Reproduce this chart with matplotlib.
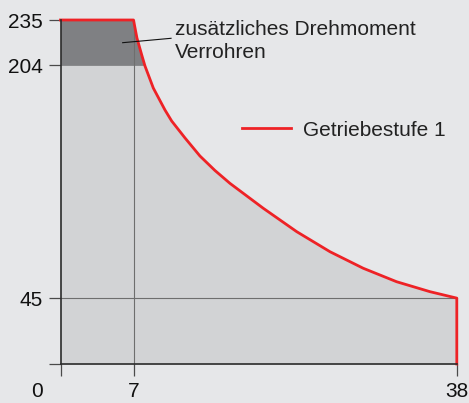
import matplotlib
matplotlib.use("Agg")
import matplotlib.pyplot as plt
import numpy as np

plt.rcParams['font.family'] = ['Liberation Sans', 'DejaVu Sans']

# Torque curve (speed vs. torque), read along the red boundary
speed = [0, 7, 7.33, 7.79, 8.1, 8.9, 10.02, 10.66, 11.94, 13.37, 14.81, 16.25,
         19.44, 22.65, 25.84, 29.03, 32.23, 35.43, 38]
torque = [235, 235, 222.7, 211.1, 203.6, 188.5, 173.5, 166, 154.4, 142.1, 132.2,
          123.4, 106.4, 90.4, 76.7, 65.4, 56.2, 49.4, 45]

torque_base = 204          # limit without the extra pipe-running torque
x_ticks = [0, 7, 38]
x_tick_labels = ["", "7", "38"]
y_ticks = [0, 45, 204, 235]
y_tick_labels = ["", "45", "204", "235"]
series_name = "Getriebestufe 1"
note_lines = ["zusätzliches Drehmoment", "Verrohren"]

bg = "#e6e7e9"
light = "#d2d3d5"
dark = "#7f8083"
red = "#ee2226"
grid_c = "#6e6e6e"
axis_c = "#2b2b2b"

W, H = 469, 403
fig = plt.figure(figsize=(W / 100, H / 100), dpi=100, facecolor=bg)
ax = fig.add_axes([60.5 / W, (H - 364) / H, 396.3 / W, 344 / H])
ax.set_facecolor(bg)
ax.set_xlim(0, 38)
ax.set_ylim(0, 235)

xs = np.array(speed, dtype=float)
ys = np.array(torque, dtype=float)

# operating area and the extra torque band
ax.fill_between(xs, 0, ys, color=light, lw=0, zorder=1)
ax.fill_between(xs, torque_base, ys, where=ys >= torque_base, interpolate=True,
                color=dark, lw=0, zorder=2)

# reference lines
ax.plot([0, 38], [45, 45], color=grid_c, lw=0.8, zorder=3, clip_on=False)
ax.plot([7, 7], [0, 235], color=grid_c, lw=0.8, zorder=3, clip_on=False)

# boundary curve, closed down to the axis at max speed
line_x = list(xs) + [xs[-1]]
line_y = list(ys) + [0]
ax.plot(line_x, line_y, color=red, lw=2.0, zorder=5, clip_on=False,
        solid_joinstyle='round', label=series_name)

for s in ["top", "right"]:
    ax.spines[s].set_visible(False)
for s in ["left", "bottom"]:
    ax.spines[s].set_color(axis_c)
    ax.spines[s].set_linewidth(1.2)
    ax.spines[s].set_zorder(6)

ax.set_xticks(x_ticks)
ax.set_xticklabels(x_tick_labels)
ax.set_yticks(y_ticks)
ax.set_yticklabels(y_tick_labels)
ax.tick_params(axis='both', length=8.6, width=0.9, color="#4a4a4a",
               labelsize=15, labelcolor="#111111", pad=4)
ax.tick_params(axis='x', pad=4.5)

# origin label sits left of the corner
ax.text(-2.3, -18.5, "0", fontsize=15, color="#111111", ha='center', va='center',
        clip_on=False)

# annotation for the darker band
ax.plot([5.96, 10.6], [219.5, 222.5], color="#111111", lw=0.8, zorder=7)
ax.text(10.97, 224.9, note_lines[0], fontsize=15, color="#222222",
        ha='left', va='baseline')
ax.text(10.97, 209.2, note_lines[1], fontsize=15, color="#222222",
        ha='left', va='baseline')

leg = ax.legend(loc='center left', bbox_to_anchor=(241.7 / W, 1 - 130 / H),
                bbox_transform=fig.transFigure, frameon=False, fontsize=15,
                handlelength=2.38, handletextpad=0.54, borderpad=0,
                borderaxespad=0)
for t in leg.get_texts():
    t.set_color("#222222")

fig.savefig("out.png", dpi=100, facecolor=bg)
